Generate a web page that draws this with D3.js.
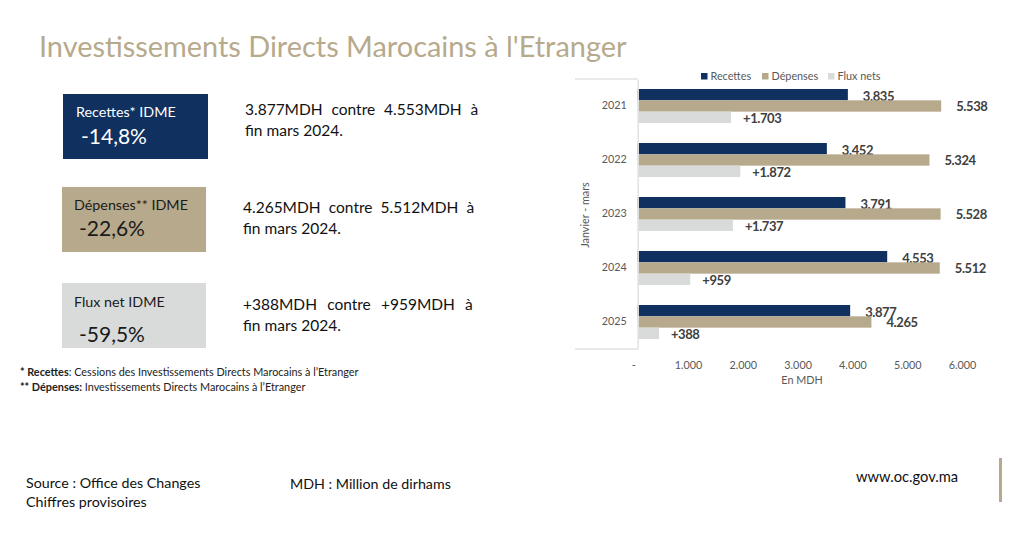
<!DOCTYPE html>
<html><head><meta charset="utf-8">
<script src="https://cdnjs.cloudflare.com/ajax/libs/d3/7.8.5/d3.min.js"></script>
<style>html,body{margin:0;padding:0;background:#fff}svg{display:block}text{font-family:Lato,"Open Sans",sans-serif}</style>
</head><body><svg id="c" width="1024" height="534"></svg>
<script>
const years=["2021","2022","2023","2024","2025"];
const recettes=[3835,3452,3791,4553,3877];
const depenses=[5538,5324,5528,5512,4265];
const fluxNets=[1703,1872,1737,959,388];
const seriesNames=["Recettes","Dépenses","Flux nets"];
const seriesColors=["#10305f","#b7aa8c","#d9dbdb"];
const xTicks=[0,1000,2000,3000,4000,5000,6000];
const cards=[
 {t:"Recettes* IDME",v:"-14,8%",x:63,y:94,w:145,h:65,fill:"#10305f",c:"#fff",tx:76,ty:117,vx:81,vy:144,l1:"3.877MDH contre 4.553MDH à",l2:"fin mars 2024.",lx:245,ly:115,ws:4.9},
 {t:"Dépenses** IDME",v:"-22,6%",x:62,y:187,w:144,h:65,fill:"#b7aa8c",c:"#1a1a1a",tx:74,ty:210,vx:79,vy:236,l1:"4.265MDH contre 5.512MDH à",l2:"fin mars 2024.",lx:243,ly:213,ws:4.2},
 {t:"Flux net IDME",v:"-59,5%",x:62,y:283,w:144,h:65,fill:"#d9dbdb",c:"#1a1a1a",tx:74,ty:307,vx:79,vy:342,l1:"+388MDH contre +959MDH à",l2:"fin mars 2024.",lx:243,ly:310,ws:6.2}];
const svg=d3.select("#c");
const fmt=v=>d3.format(",")(v).replace(/,/g,".");

svg.append("text").attr("x",39).attr("y",57).attr("font-size",28.9).attr("fill","#b7aa8c").text("Investissements Directs Marocains à l'Etranger");

cards.forEach(d=>{
 svg.append("rect").attr("x",d.x).attr("y",d.y).attr("width",d.w).attr("height",d.h).attr("fill",d.fill);
 svg.append("text").attr("x",d.tx).attr("y",d.ty).attr("font-size",14.3).attr("fill",d.c).text(d.t);
 svg.append("text").attr("x",d.vx).attr("y",d.vy).attr("font-size",21).attr("fill",d.c).text(d.v);
 svg.append("text").attr("x",d.lx).attr("y",d.ly).attr("font-size",15.5).attr("fill","#111").style("word-spacing",d.ws+"px").text(d.l1);
 svg.append("text").attr("x",d.lx).attr("y",d.ly+21).attr("font-size",15.5).attr("fill","#111").text(d.l2);
});

const n1=svg.append("text").attr("x",20).attr("y",376).attr("font-size",10.85).attr("fill","#222");
n1.append("tspan").attr("font-weight","bold").text("* Recettes");
n1.append("tspan").text(": Cessions des Investissements Directs Marocains à l’Etranger");
const n2=svg.append("text").attr("x",20).attr("y",391).attr("font-size",10.85).attr("fill","#222");
n2.append("tspan").attr("font-weight","bold").text("** Dépenses:");
n2.append("tspan").text(" Investissements Directs Marocains à l’Etranger");

const foot=[["Source : Office des Changes",26,488,14.25],["Chiffres provisoires",26,507,14.3],["MDH : Million de dirhams",290,489,14.25],["www.oc.gov.ma",856,482,14.7]];
foot.forEach(f=>svg.append("text").attr("x",f[1]).attr("y",f[2]).attr("font-size",f[3]).attr("fill","#111").text(f[0]));
svg.append("rect").attr("x",999).attr("y",458).attr("width",3).attr("height",44).attr("fill","#b7aa8c");

// chart
const x=d3.scaleLinear().domain([0,6000]).range([637.7,966.5]);
const y=d3.scaleBand().domain(years).range([79,349]);
const inner=d3.scaleBand().domain(seriesNames).range([10,44]);
const series=[recettes,depenses,fluxNets];
const g=svg.append("g");
const offs=[15,15,12], lab=[1.7,0.7,0.7];
series.forEach((vals,i)=>{
 g.selectAll(null).data(vals).join("rect")
  .attr("x",x(0)).attr("y",(d,j)=>y(years[j])+inner(seriesNames[i]))
  .attr("width",d=>x(d)-x(0)).attr("height",inner.bandwidth()).attr("fill",seriesColors[i]);
 g.selectAll(null).data(vals).join("text")
  .attr("x",d=>x(d)+offs[i]).attr("y",(d,j)=>y(years[j])+inner(seriesNames[i])+inner.bandwidth()/2+lab[i])
  .attr("dy","0.35em").attr("font-size",13).attr("letter-spacing",-0.4).attr("font-weight","bold").attr("fill","#404040")
  .text(d=>(i===2?"+":"")+fmt(d));
});
// category axis
const axY=d3.axisLeft(y).tickSize(0).tickPadding(11);
const gy=svg.append("g").attr("transform",`translate(${x(0)},0)`).call(axY);
gy.select(".domain").attr("stroke","#e2e2e2").attr("stroke-width",1.5);
gy.selectAll("text").attr("font-size",10.8).attr("fill","#595959").style("font-family","Lato");
svg.append("line").attr("x1",575).attr("x2",x(0)).attr("y1",79).attr("y2",79).attr("stroke","#e2e2e2").attr("stroke-width",1.5);
svg.append("line").attr("x1",575).attr("x2",x(0)).attr("y1",349).attr("y2",349).attr("stroke","#e2e2e2").attr("stroke-width",1.5);
// value axis
const axX=d3.axisBottom(x).tickValues(xTicks).tickSize(0).tickPadding(0).tickFormat(d=>d===0?"-":fmt(d));
const gx=svg.append("g").attr("transform","translate(-4.5,361)").call(axX);
gx.select(".domain").remove();
gx.selectAll("text").attr("font-size",10.8).attr("fill","#595959").style("font-family","Lato");
svg.append("text").attr("x",802).attr("y",384).attr("text-anchor","middle").attr("font-size",10.8).attr("fill","#595959").text("En MDH");
svg.append("text").attr("transform","translate(589,215) rotate(-90)").attr("text-anchor","middle").attr("font-size",10.8).attr("fill","#595959").text("Janvier - mars");
// legend
const lx=[701,762,828];
seriesNames.forEach((s,i)=>{
 svg.append("rect").attr("x",lx[i]).attr("y",73).attr("width",6.5).attr("height",6.5).attr("fill",seriesColors[i]);
 svg.append("text").attr("x",lx[i]+9.5).attr("y",80).attr("font-size",10.8).attr("fill","#595959").text(s);
});
</script></body></html>
